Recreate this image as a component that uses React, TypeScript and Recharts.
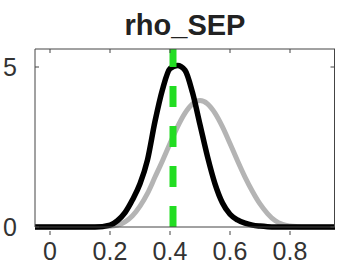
import React from 'react';
import { ComposedChart, Line, XAxis, YAxis, ReferenceLine } from 'recharts';

const xValues = [-0.05, 0, 0.05, 0.1, 0.15, 0.2, 0.225, 0.25, 0.275, 0.3, 0.325, 0.35, 0.375, 0.4, 0.425, 0.45, 0.475, 0.5, 0.525, 0.55, 0.575, 0.6, 0.625, 0.65, 0.675, 0.7, 0.725, 0.75, 0.775, 0.8, 0.825, 0.85, 0.875, 0.9, 0.95];
const posterior = [0, 0, 0, 0, 0, 0.06, 0.2, 0.45, 0.85, 1.35, 2.1, 3.3, 4.3, 4.95, 5.05, 4.9, 4.2, 3.2, 2.2, 1.35, 0.75, 0.4, 0.22, 0.12, 0.06, 0.03, 0.01, 0, 0, 0, 0, 0, 0, 0, 0];
const prior = [0, 0, 0, 0, 0, 0.02, 0.06, 0.16, 0.35, 0.65, 1.05, 1.56, 2.07, 2.61, 3.13, 3.56, 3.85, 3.95, 3.85, 3.56, 3.13, 2.61, 2.07, 1.56, 1.11, 0.72, 0.42, 0.2, 0.08, 0.03, 0.01, 0, 0, 0, 0];
const xTicks = [0, 0.2, 0.4, 0.6, 0.8];
const yTicks = [0, 5];
const trueValue = 0.41;
const title = 'rho_SEP';
const xDomain = [-0.05, 0.95];
const yDomain = [0, 5.5625];

const data = xValues.map((x, i) => ({ x, posterior: posterior[i], prior: prior[i] }));

const font = 'Arial, "Liberation Sans", Helvetica, sans-serif';

// plot box in pixels
const plot = { left: 35, top: 49, width: 300, height: 178 };
const yToPx = (v: number) => plot.top + plot.height * (1 - (v - yDomain[0]) / (yDomain[1] - yDomain[0]));

const BottomTick = (props: any) => {
  const { x, y, payload } = props;
  return (
    <g>
      <line x1={x} y1={y} x2={x} y2={y - 4} stroke="#444" strokeWidth={1} />
      <text x={x} y={y + 25} textAnchor="middle" fontSize={25} fontFamily={font} fill="#333">
        {payload.value}
      </text>
    </g>
  );
};

const TopTick = (props: any) => {
  const { x } = props;
  return <line x1={x} y1={plot.top} x2={x} y2={plot.top + 4} stroke="#444" strokeWidth={1} />;
};

const LeftTick = (props: any) => {
  const { x, y, payload } = props;
  return (
    <g>
      <line x1={plot.left} y1={y} x2={plot.left + 4} y2={y} stroke="#444" strokeWidth={1} />
      <text x={x - 17} y={y + 9} textAnchor="middle" fontSize={25} fontFamily={font} fill="#333">
        {payload.value}
      </text>
    </g>
  );
};

const App = () => {
  const right = plot.left + plot.width - 0.5;
  return (
    <div style={{ position: 'absolute', left: 0, top: 0, width: 337, height: 276, background: '#fff' }}>
      <div
        style={{
          position: 'absolute',
          left: plot.left,
          width: plot.width,
          top: 8,
          textAlign: 'center',
          fontFamily: font,
          fontWeight: 'bold',
          fontSize: 29,
          lineHeight: '34px',
          color: '#222',
        }}
      >
        {title}
      </div>
      <ComposedChart width={337} height={276} data={data} margin={{ top: 48, right: 2, left: 0, bottom: 0 }}>
        <XAxis
          xAxisId="b"
          dataKey="x"
          type="number"
          domain={xDomain}
          ticks={xTicks}
          height={49}
          axisLine={{ stroke: '#444' }}
          tickLine={false}
          tick={<BottomTick />}
          interval={0}
        />
        <XAxis
          xAxisId="t"
          dataKey="x"
          type="number"
          orientation="top"
          domain={xDomain}
          ticks={xTicks}
          height={1}
          axisLine={{ stroke: '#444' }}
          tickLine={false}
          tick={<TopTick />}
          interval={0}
        />
        <YAxis
          yAxisId="l"
          type="number"
          domain={yDomain}
          ticks={yTicks}
          width={35}
          axisLine={{ stroke: '#444' }}
          tickLine={false}
          tick={<LeftTick />}
          interval={0}
        />
        <Line
          xAxisId="b"
          yAxisId="l"
          type="monotone"
          dataKey="prior"
          stroke="#b4b4b4"
          strokeWidth={5}
          dot={false}
          isAnimationActive={false}
        />
        <Line
          xAxisId="b"
          yAxisId="l"
          type="monotone"
          dataKey="posterior"
          stroke="#000"
          strokeWidth={5.5}
          dot={false}
          isAnimationActive={false}
        />
        <ReferenceLine
          xAxisId="b"
          yAxisId="l"
          x={trueValue}
          stroke="#22dd22"
          strokeWidth={7}
          strokeDasharray="21 19"
        />
      </ComposedChart>
      {/* right side of the frame with its inward ticks */}
      <svg
        width={337}
        height={276}
        style={{ position: 'absolute', left: 0, top: 0, pointerEvents: 'none' }}
      >
        <line x1={right} y1={plot.top} x2={right} y2={plot.top + plot.height} stroke="#444" strokeWidth={1} />
        {yTicks.map((t) => (
          <line key={t} x1={right} y1={yToPx(t)} x2={right - 4} y2={yToPx(t)} stroke="#444" strokeWidth={1} />
        ))}
      </svg>
    </div>
  );
};

export default App;
